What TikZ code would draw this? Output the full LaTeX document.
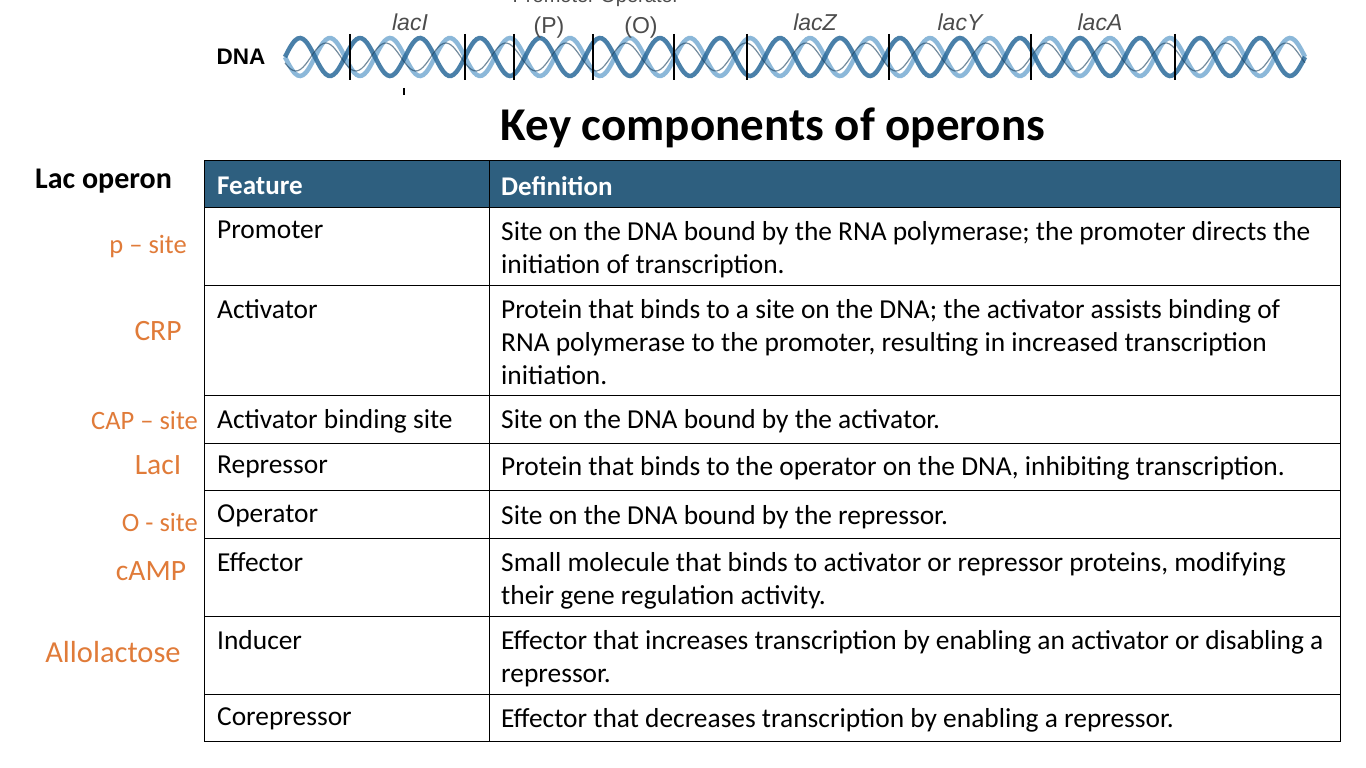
\documentclass[tikz,border=0pt]{standalone}
\usepackage{fontspec}
\setmainfont{Carlito}
\newfontfamily\helv{Liberation Sans}
\definecolor{hdr}{HTML}{2E5F7F}
\definecolor{org}{HTML}{E07B39}
\definecolor{dnaA}{HTML}{2A6A9A}
\definecolor{dnaB}{HTML}{6FA6CF}
\begin{document}
\begin{tikzpicture}[x=1pt,y=-1pt,
  cell/.style={anchor=north west,font=\fontsize{27.4}{33}\selectfont,align=left,inner sep=0pt},
  side/.style={text=org,font=\fontsize{26.5}{30}\selectfont,inner sep=0pt},
  gene/.style={text=black!70,font=\helv\fontsize{23}{26}\selectfont,inner sep=0pt},
  genei/.style={gene,font=\helv\itshape\fontsize{23}{26}\selectfont},
  bar/.style={black,line width=1.5pt}]
\useasboundingbox (0,0) rectangle (1366,768);
\begin{scope}
\clip (0,0) rectangle (1366,768);
\node[gene,font=\helv\fontsize{20}{22}\selectfont] (po) at (596,-2) {Promoter Operator};
\end{scope}
% DNA helix
\node[font=\helv\bfseries\fontsize{22.5}{25}\selectfont,inner sep=0pt] (dna) at (241,57) {DNA};
\draw[dnaB,line width=4.5pt,opacity=.8] plot[domain=285:1305,samples=400,smooth] (\x,{57+19*sin((\x-285)*6)});
\draw[dnaA,line width=4.5pt,opacity=.85] plot[domain=285:1305,samples=400,smooth] (\x,{57-19*sin((\x-285)*6)});
\draw[dnaA!60!black,line width=1.2pt,opacity=.6] plot[domain=285:1305,samples=400,smooth] (\x,{57+14*sin((\x-285)*6+25)});
\foreach \xx in {350,465,514,593,674,747,889,1031,1175}
  \draw[bar] (\xx,34) -- (\xx,80);
\draw[bar] (404,88) -- (404,95);
\node[genei] (li) at (410,22) {lacI};
\node[gene] (pp) at (549,28) {(P)};
\node[gene] (oo) at (641,28) {(O)};
\node[genei] (lz) at (815,22) {lacZ};
\node[genei] (ly) at (960,22) {lacY};
\node[genei] (la) at (1100,22) {lacA};
% title
\node[font=\bfseries\fontsize{47}{50}\selectfont,inner sep=0pt] (title) at (773,128) {Key components of operons};
\node[font=\bfseries\fontsize{30}{33}\selectfont,inner sep=0pt,anchor=west] (lac) at (35,181) {Lac operon};
% table
\fill[hdr] (204,160) rectangle (1340,207);
\draw[line width=1pt] (204,160) rectangle (1340,741);
\draw[line width=1pt] (489,160) -- (489,741);
\foreach \yy in {207,285,395,443,490,538,616,694}
  \draw[line width=1pt] (204,\yy) -- (1340,\yy);
\node[cell,anchor=west,text=white,font=\bfseries\fontsize{27}{30}\selectfont] (h1) at (217,186) {Feature};
\node[cell,anchor=west,text=white,font=\bfseries\fontsize{27}{30}\selectfont] (h2) at (501,186) {Definition};
\node[cell] (f1) at (217,221) {Promoter};
\node[cell] (d1) at (501,221) {Site on the DNA bound by the RNA polymerase; the promoter directs the\\initiation of transcription.};
\node[cell] (f2) at (217,299) {Activator};
\node[cell] (d2) at (501,299) {Protein that binds to a site on the DNA; the activator assists binding of\\RNA polymerase to the promoter, resulting in increased transcription\\initiation.};
\node[cell] (f3) at (217,409) {Activator binding site};
\node[cell] (d3) at (501,409) {Site on the DNA bound by the activator.};
\node[cell] (f4) at (217,456) {Repressor};
\node[cell] (d4) at (501,456) {Protein that binds to the operator on the DNA, inhibiting transcription.};
\node[cell] (f5) at (217,505) {Operator};
\node[cell] (d5) at (501,505) {Site on the DNA bound by the repressor.};
\node[cell] (f6) at (217,552) {Effector};
\node[cell] (d6) at (501,552) {Small molecule that binds to activator or repressor proteins, modifying\\their gene regulation activity.};
\node[cell] (f7) at (217,630) {Inducer};
\node[cell] (d7) at (501,630) {Effector that increases transcription by enabling an activator or disabling a\\repressor.};
\node[cell] (f8) at (217,708) {Corepressor};
\node[cell] (d8) at (501,708) {Effector that decreases transcription by enabling a repressor.};
% side labels
\node[side,anchor=east] (s1) at (187,247) {p – site};
\node[side,font=\fontsize{29.5}{32}\selectfont] (s2) at (158,331) {CRP};
\node[side,anchor=east] (s3) at (198,420) {CAP – site};
\node[side,font=\fontsize{29.5}{32}\selectfont] (s4) at (158,465) {LacI};
\node[side,anchor=east] (s5) at (198,522) {O - site};
\node[side,font=\fontsize{29.5}{32}\selectfont] (s6) at (151,571) {cAMP};
\node[side,font=\fontsize{30.5}{33}\selectfont] (s7) at (113,652) {Allolactose};
\end{tikzpicture}
\end{document}
